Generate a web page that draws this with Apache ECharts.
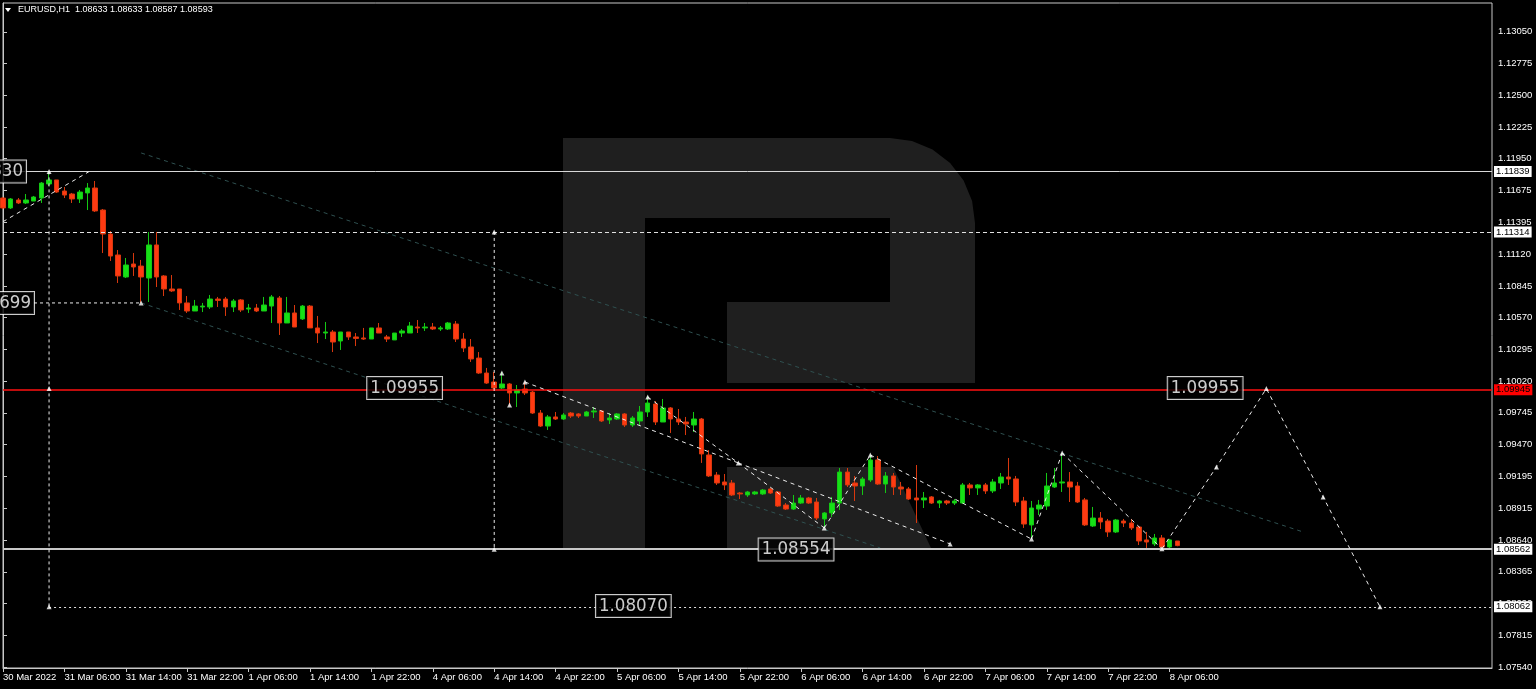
<!DOCTYPE html>
<html><head><meta charset="utf-8">
<script src="https://cdn.jsdelivr.net/npm/echarts@6/dist/echarts.min.js"></script>
<style>html,body{margin:0;padding:0;background:#000;}#c{width:1536px;height:689px;}</style>
</head><body><div id="c"></div>
<script>
// ---------- data ----------
const symbolName = 'EURUSD,H1';
// trading sessions: [day label, first hour, last hour]
const sessions = [['30 Mar',22,23],['31 Mar',0,23],['1 Apr',0,23],['4 Apr',0,23],['5 Apr',0,23],['6 Apr',0,23],['7 Apr',0,23],['8 Apr',0,7]];
const futureSlots = 41;
const tickLabels = ['30 Mar 2022','31 Mar 06:00','31 Mar 14:00','31 Mar 22:00','1 Apr 06:00','1 Apr 14:00','1 Apr 22:00','4 Apr 06:00','4 Apr 14:00','4 Apr 22:00','5 Apr 06:00','5 Apr 14:00','5 Apr 22:00','6 Apr 06:00','6 Apr 14:00','6 Apr 22:00','7 Apr 06:00','7 Apr 14:00','7 Apr 22:00','8 Apr 06:00'];
const yTicks = [1.13050,1.12775,1.12500,1.12225,1.11950,1.11675,1.11395,1.11120,1.10845,1.10570,1.10295,1.10020,1.09745,1.09470,1.09195,1.08915,1.08640,1.08365,1.08090,1.07815,1.07540];
// hourly bars: [open, high, low, close]
const ohlc = [
[1.11608,1.11617,1.11513,1.11522],[1.11522,1.11608,1.11513,1.11600],[1.11591,1.11608,1.11556,1.11565],[1.11565,1.11643,1.11556,1.11591],
[1.11582,1.11626,1.11582,1.11617],[1.11608,1.11747,1.11565,1.11738],[1.11730,1.11839,1.11712,1.11765],[1.11765,1.11765,1.11652,1.11660],
[1.11669,1.11704,1.11608,1.11634],[1.11643,1.11652,1.11565,1.11600],[1.11600,1.11678,1.11565,1.11660],[1.11652,1.11738,1.11504,1.11695],
[1.11695,1.11756,1.11487,1.11496],[1.11504,1.11513,1.11131,1.11296],[1.11296,1.11322,1.11062,1.11105],[1.11114,1.11157,1.10871,1.10932],
[1.10923,1.11088,1.10914,1.11027],[1.11036,1.11131,1.10932,1.11010],[1.11018,1.11071,1.10698,1.10923],[1.10914,1.11313,1.10706,1.11201],
[1.11201,1.11313,1.10836,1.10923],[1.10932,1.10940,1.10758,1.10819],[1.10819,1.10940,1.10793,1.10802],[1.10819,1.10819,1.10637,1.10698],
[1.10698,1.10758,1.10611,1.10628],[1.10628,1.10724,1.10628,1.10671],[1.10663,1.10698,1.10619,1.10671],[1.10663,1.10767,1.10645,1.10732],
[1.10732,1.10750,1.10663,1.10720],[1.10732,1.10750,1.10585,1.10663],[1.10663,1.10732,1.10619,1.10715],[1.10724,1.10732,1.10619,1.10637],
[1.10645,1.10689,1.10611,1.10654],[1.10654,1.10689,1.10619,1.10628],[1.10628,1.10750,1.10628,1.10680],[1.10671,1.10767,1.10524,1.10750],
[1.10741,1.10758,1.10420,1.10524],[1.10524,1.10750,1.10524,1.10611],[1.10611,1.10680,1.10489,1.10489],[1.10559,1.10680,1.10550,1.10671],
[1.10671,1.10680,1.10481,1.10481],[1.10481,1.10585,1.10350,1.10437],[1.10437,1.10533,1.10385,1.10446],[1.10446,1.10463,1.10272,1.10359],
[1.10368,1.10446,1.10290,1.10446],[1.10446,1.10446,1.10377,1.10403],[1.10403,1.10437,1.10324,1.10390],[1.10394,1.10481,1.10377,1.10385],
[1.10385,1.10481,1.10385,1.10481],[1.10481,1.10524,1.10437,1.10437],[1.10403,1.10420,1.10359,1.10385],[1.10377,1.10437,1.10377,1.10437],
[1.10437,1.10472,1.10403,1.10455],[1.10437,1.10533,1.10437,1.10498],[1.10489,1.10550,1.10437,1.10481],[1.10481,1.10524,1.10455,1.10489],
[1.10489,1.10524,1.10463,1.10472],[1.10472,1.10498,1.10455,1.10481],[1.10472,1.10533,1.10463,1.10524],[1.10515,1.10541,1.10359,1.10385],
[1.10385,1.10437,1.10272,1.10307],[1.10316,1.10385,1.10186,1.10212],[1.10220,1.10272,1.10082,1.10090],[1.10090,1.10134,1.09995,1.10003],
[1.10012,1.10099,1.09934,1.09960],[1.09960,1.10099,1.09951,1.09995],[1.09995,1.10003,1.09804,1.09917],[1.09917,1.09986,1.09795,1.09943],
[1.09951,1.10012,1.09899,1.09917],[1.09925,1.09934,1.09735,1.09743],[1.09743,1.09769,1.09622,1.09630],[1.09630,1.09726,1.09596,1.09709],
[1.09709,1.09752,1.09683,1.09691],[1.09691,1.09743,1.09683,1.09726],[1.09743,1.09752,1.09700,1.09717],[1.09735,1.09743,1.09700,1.09717],
[1.09717,1.09761,1.09717,1.09752],[1.09752,1.09795,1.09700,1.09761],[1.09761,1.09769,1.09665,1.09674],[1.09683,1.09743,1.09648,1.09700],
[1.09691,1.09743,1.09683,1.09735],[1.09735,1.09743,1.09622,1.09639],[1.09639,1.09717,1.09622,1.09700],[1.09674,1.09804,1.09639,1.09752],
[1.09752,1.09890,1.09709,1.09830],[1.09821,1.09847,1.09639,1.09665],[1.09665,1.09865,1.09665,1.09787],[1.09787,1.09795,1.09570,1.09691],
[1.09691,1.09778,1.09639,1.09665],[1.09665,1.09709,1.09552,1.09648],[1.09639,1.09752,1.09578,1.09691],[1.09691,1.09700,1.09310,1.09388],
[1.09379,1.09422,1.09188,1.09197],[1.09205,1.09231,1.09119,1.09136],[1.09145,1.09214,1.09075,1.09119],[1.09136,1.09162,1.09023,1.09032],
[1.09049,1.09058,1.08997,1.09041],[1.09032,1.09067,1.09015,1.09058],[1.09041,1.09067,1.09032,1.09058],[1.09041,1.09084,1.09032,1.09075],
[1.09084,1.09093,1.09041,1.09049],[1.09058,1.09067,1.08928,1.08936],[1.08945,1.08962,1.08902,1.08910],[1.08910,1.09032,1.08902,1.08962],
[1.08962,1.09032,1.08954,1.09006],[1.09006,1.09015,1.08954,1.08962],[1.08971,1.09006,1.08815,1.08832],[1.08824,1.08884,1.08746,1.08876],
[1.08876,1.09015,1.08841,1.08962],[1.08962,1.09266,1.08902,1.09231],[1.09231,1.09266,1.09101,1.09119],[1.09136,1.09197,1.08980,1.09110],
[1.09110,1.09188,1.09032,1.09171],[1.09162,1.09379,1.09145,1.09336],[1.09336,1.09370,1.09119,1.09127],[1.09127,1.09231,1.09049,1.09197],
[1.09197,1.09223,1.09032,1.09101],[1.09101,1.09145,1.09032,1.09084],[1.09084,1.09101,1.08989,1.08997],[1.09006,1.09292,1.08789,1.08989],
[1.08989,1.09058,1.08919,1.09006],[1.09015,1.09023,1.08954,1.08962],[1.08962,1.08989,1.08919,1.08980],[1.08980,1.08989,1.08945,1.08962],
[1.08962,1.08997,1.08945,1.08980],[1.08962,1.09136,1.08954,1.09119],[1.09119,1.09136,1.09032,1.09093],[1.09093,1.09127,1.09032,1.09119],
[1.09119,1.09136,1.09041,1.09067],[1.09067,1.09171,1.09049,1.09145],[1.09136,1.09223,1.09084,1.09188],[1.09188,1.09353,1.09119,1.09171],
[1.09171,1.09197,1.08936,1.08971],[1.08980,1.09015,1.08746,1.08780],[1.08772,1.08980,1.08650,1.08919],[1.08910,1.08989,1.08858,1.08945],
[1.08936,1.09223,1.08902,1.09110],[1.09101,1.09266,1.09093,1.09136],[1.09136,1.09396,1.09058,1.09145],[1.09145,1.09231,1.08971,1.09101],
[1.09110,1.09145,1.08962,1.08971],[1.08989,1.09006,1.08763,1.08772],[1.08763,1.08928,1.08754,1.08832],[1.08832,1.08884,1.08737,1.08798],
[1.08806,1.08824,1.08668,1.08711],[1.08711,1.08824,1.08702,1.08815],[1.08806,1.08824,1.08754,1.08789],[1.08789,1.08824,1.08728,1.08746],
[1.08754,1.08763,1.08598,1.08633],[1.08642,1.08711,1.08572,1.08624],[1.08607,1.08694,1.08589,1.08659],[1.08659,1.08685,1.08554,1.08581],
[1.08581,1.08650,1.08572,1.08642],[1.08633,1.08633,1.08587,1.08593]
];
// horizontal levels shown on the price scale, with the bar index where each starts
const levelValues = [1.11839, 1.11314, 1.09945, 1.08562, 1.08062];
const levelStarts = [0, 0, 0, 0, 6];
// analysis drawings, in [bar index, price]
const waveSegments = [
  [[0,1.11403],[11.2,1.11837]],
  [[68,1.10012],[95.8,1.09310]],
  [[84,1.09882],[95.8,1.09310]],
  [[95.8,1.09310],[107,1.08746]],
  [[95.8,1.09310],[123.4,1.08607]],
  [[107,1.08746],[113,1.09379]],
  [[113,1.09379],[134,1.08650]],
  [[134,1.08650],[138,1.09396]],
  [[138,1.09396],[151,1.08565]],
  [[151,1.08565],[158.1,1.09275],[164.6,1.09955],[172.0,1.09015],[179.4,1.08062]]
];
const guideSegments = [
  [[6,1.11839],[6,1.08062]],
  [[64,1.11314],[64,1.08562]],
  [[4.04,1.10698],[18,1.10698]]
];
const channelSegments = [
  [[18,1.11999],[169.4,1.08711]],
  [[18,1.10698],[114.3,1.08572]]
];
const pivotMarks = [[6,1.11839],[6,1.09955],[6,1.08062],[18,1.10698],[64,1.11314],[64,1.08562],[65,1.10090],[66,1.09813],[68,1.10012],[84,1.09882],[95.8,1.09310],[107,1.08746],[113,1.09379],[123.4,1.08607],[134,1.08650],[138,1.09396],[151,1.08565],[158.1,1.09275],[164.6,1.09955],[172.0,1.09015],[179.4,1.08062]];
const priceTags = [
  ['1.11830',3.0,1.11839],['1.10699',4.04,1.10698],['1.09955',57.2,1.09960],
  ['1.08554',108.2,1.08559],['1.08070',87.0,1.08069],['1.09955',161.5,1.09960]
];

// ---------- build ----------
const categories = [];
sessions.forEach(([d,h0,h1]) => { for (let h=h0; h<=h1; h++) categories.push(d + ' ' + String(h).padStart(2,'0') + ':00'); });
for (let k=0; k<futureSlots; k++) categories.push('');
const N = categories.length;
const candleData = ohlc.map(([o,h,l,c]) => [o,c,l,h]);
const last = ohlc[ohlc.length-1];
const fmt = v => v.toFixed(5);
const small = "'Liberation Sans', Arial, sans-serif";
const tagFont = "'DejaVu Sans Condensed','Liberation Sans Narrow',sans-serif";
const showTick = i => i % 8 === 0 && i/8 < tickLabels.length;

const levelStyles = [
  {ls:{color:'#d8d8d8',width:1,type:'solid'}, bg:'#ffffff'},
  {ls:{color:'#e0e0e0',width:1,type:[4,3]}, bg:'#ffffff'},
  {ls:{color:'#ff1010',width:1.5,type:'solid',opacity:1}, bg:'#ff0000'},
  {ls:{color:'#c8c8c8',width:2,type:'solid'}, bg:'#ffffff'},
  {ls:{color:'#e0e0e0',width:1,type:[2,3]}, bg:'#ffffff'}
];
const markData = levelValues.map((v,k) => {
  const st = levelStyles[k];
  const label = {show:true, position:'end', formatter: fmt(v), backgroundColor: st.bg, color:'#000', fontSize:9.5, fontFamily: small, padding:[1,2,0,2], distance:2};
  return [{coord:[levelStarts[k], v], lineStyle: st.ls, label}, {coord:[N-1, v]}];
});

// watermark logo outline (decoration, pixel space)
const logoPts = [[563,138],[890,138]];
for (let a=-75; a<=0; a+=15) { const r=a*Math.PI/180; logoPts.push([890+85*Math.cos(r), 223+85*Math.sin(r)]); }
logoPts.push([975,383],[727,383],[727,302],[890,302],[890,218],[645,218],[645,548],[563,548]);

const option = {
  backgroundColor: '#000',
  animation: false,
  title: {text: symbolName + '  ' + last.map(fmt).join(' '), left: 18, top: 5, padding: 0,
          textStyle: {color:'#fff', fontSize:9, fontWeight:'normal', fontFamily: small}},
  grid: {left: 2, right: 44, top: 3, bottom: 21, show: true, borderColor: '#c8c8c8', borderWidth: 1, backgroundColor: 'transparent'},
  xAxis: [
    {type:'category', data: categories, boundaryGap:false,
     axisLine:{show:true, lineStyle:{color:'#c8c8c8'}},
     axisTick:{show:true, length:4, interval: showTick, lineStyle:{color:'#c8c8c8'}},
     axisLabel:{show:true, interval: showTick, formatter:(v,i)=>tickLabels[i/8], align:'left', margin:4,
                color:'#fff', fontSize:9.5, fontFamily: small},
     splitLine:{show:false}},
    {type:'value', min:0, max:N-1, show:false}
  ],
  yAxis: {type:'value', position:'right', min:1.07531, max:1.13300,
    axisLine:{show:true, lineStyle:{color:'#c8c8c8'}},
    axisTick:{show:true, length:4, customValues: yTicks, lineStyle:{color:'#c8c8c8'}},
    axisLabel:{show:true, customValues: yTicks, formatter: fmt, margin:6, color:'#fff', fontSize:9.5, fontFamily: small},
    splitLine:{show:false}},
  graphic: [
    {type:'polygon', z:0, silent:true, shape:{points: logoPts}, style:{fill:'#1f1f1f'}},
    {type:'polygon', z:0, silent:true, shape:{points: [[727,467],[893,467],[931,548],[727,548]]}, style:{fill:'#1f1f1f'}},
    {type:'polygon', silent:true, shape:{points:[[5,8],[11,8],[8,12]]}, style:{fill:'#fff'}}
  ],
  series: [
    {type:'lines', coordinateSystem:'cartesian2d', xAxisIndex:1, yAxisIndex:0, polyline:true, z:3,
     data: channelSegments.map(c => ({coords:c})), lineStyle:{color:'#2f5050', width:1, type:[4,4], opacity:1}},
    {type:'candlestick', xAxisIndex:0, yAxisIndex:0, data: candleData, barWidth:5, z:4,
     itemStyle:{color:'#16e016', color0:'#ff3a12', borderColor:'#14c814', borderColor0:'#d8380e', borderWidth:1}},
    {type:'lines', coordinateSystem:'cartesian2d', xAxisIndex:1, yAxisIndex:0, polyline:true, z:5,
     data: waveSegments.map(c => ({coords:c})), lineStyle:{color:'#ececec', width:1, type:[4,4], opacity:1}},
    {type:'lines', coordinateSystem:'cartesian2d', xAxisIndex:1, yAxisIndex:0, polyline:true, z:5,
     data: guideSegments.map(c => ({coords:c})), lineStyle:{color:'#ececec', width:1, type:[3,3], opacity:1}},
    {type:'scatter', xAxisIndex:1, yAxisIndex:0, data: pivotMarks, symbol:'triangle', symbolSize:[5,5], z:6,
     itemStyle:{color:'#ffffff'},
     markLine:{symbol:['none','none'], silent:true, animation:false, data: markData}},
    {type:'scatter', xAxisIndex:1, yAxisIndex:0, z:7, symbolSize:0,
     data: priceTags.map(([t,x,p]) => ({value:[x,p], name:t})),
     label:{show:true, position:'left', distance:0, formatter:'{b}', color:'#fff', fontSize:18.5, lineHeight:19,
            fontFamily: tagFont, backgroundColor:'#000', borderColor:'#fff', borderWidth:1, padding:[2,3,1,3]}}
  ]
};
const chart = echarts.init(document.getElementById('c'), null, {renderer:'canvas', width:1536, height:689});
chart.setOption(option);
</script>
</body></html>
